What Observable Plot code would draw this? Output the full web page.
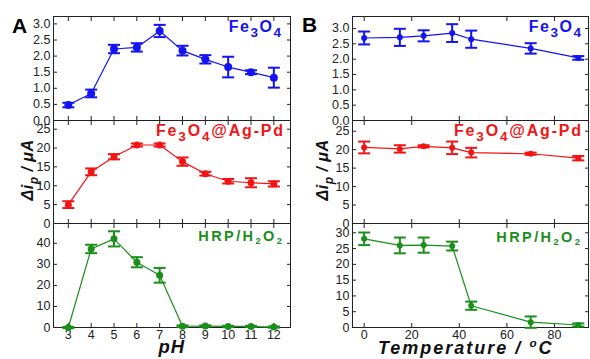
<!DOCTYPE html>
<html><head><meta charset="utf-8">
<script src="https://cdn.jsdelivr.net/npm/d3@7"></script>
<script src="https://cdn.jsdelivr.net/npm/@observablehq/plot@0.6"></script>
<style>
body{margin:0;background:#fff;}
#chart{position:relative;width:590px;height:359px;overflow:hidden;font-family:"Liberation Sans",Arial,sans-serif;background:#fff;}
.lbl{position:absolute;font-weight:bold;white-space:nowrap;line-height:1;}
.lbl sub{font-size:85%;vertical-align:baseline;position:relative;top:0.3em;}
.lbl sup{font-size:65%;vertical-align:baseline;position:relative;top:-0.55em;}
</style></head><body><div id="chart"></div><script>
// ---- data ----
const pH = [3, 4, 5, 6, 7, 8, 9, 10, 11, 12];
const pH_Fe3O4 = [0.48, 0.84, 2.22, 2.27, 2.78, 2.17, 1.90, 1.66, 1.50, 1.33];
const pH_Fe3O4_err = [0.07, 0.12, 0.13, 0.13, 0.19, 0.15, 0.13, 0.32, 0.06, 0.31];
const pH_AgPd = [5.0, 13.7, 17.7, 20.8, 20.8, 16.4, 13.2, 11.2, 10.8, 10.5];
const pH_AgPd_err = [0.9, 0.9, 0.7, 0.4, 0.4, 1.1, 0.5, 0.6, 1.2, 0.7];
const pH_HRP = [0.0, 37.3, 42.1, 31.0, 24.8, 0.6, 0.7, 0.5, 0.5, 0.2];
const pH_HRP_err = [0.3, 2.0, 3.6, 2.4, 3.5, 0.4, 0.3, 0.3, 0.3, 0.3];

const temp = [0, 15, 25, 37, 45, 70, 90];
const T_Fe3O4 = [2.69, 2.71, 2.76, 2.85, 2.65, 2.35, 2.04];
const T_Fe3O4_err = [0.21, 0.28, 0.18, 0.29, 0.28, 0.17, 0.06];
const T_AgPd = [20.6, 20.2, 20.9, 20.5, 19.2, 18.9, 17.7];
const T_AgPd_err = [1.6, 1.0, 0.3, 1.7, 1.3, 0.3, 0.6];
const T_HRP = [28.1, 26.0, 26.1, 25.8, 6.9, 1.7, 0.8];
const T_HRP_err = [2.0, 2.5, 2.4, 1.4, 1.3, 1.8, 0.5];

const pHTicks = [3, 4, 5, 6, 7, 8, 9, 10, 11, 12];
const tempTicks = [0, 20, 40, 60, 80];
const feTicks = [0, 0.5, 1, 1.5, 2, 2.5, 3];
const agTicks = [0, 5, 10, 15, 20, 25];
const hrpTicksA = [0, 10, 20, 30, 40];
const hrpTicksB = [0, 5, 10, 15, 20, 25, 30];

const BLUE = "#1414f2", RED = "#f21414", GREEN = "#1a8f1a";

const chart = document.getElementById("chart");
const cap = {draw(ctx, size) { const w = Math.sqrt(size / Math.PI); ctx.moveTo(-w, 0); ctx.lineTo(w, 0); }};

function panel({xs, ys, es, color, xDomain, xTicks, yDomain, yTicks, yFmt, x0, x1, y0, y1, showX, r}) {
  const mL = 45, mR = 3, mT = 3, mB = showX ? 22 : 3;
  const data = xs.map((x, i) => ({x, y: ys[i], e: es[i]}));
  const svg = Plot.plot({
    width: (x1 - x0) + mL + mR, height: (y1 - y0) + mT + mB,
    marginLeft: mL, marginRight: mR, marginTop: mT, marginBottom: mB,
    x: {domain: xDomain}, y: {domain: yDomain},
    style: {fontFamily: '"Liberation Sans", Arial, sans-serif', fontSize: "12.5px", color: "#222", background: "transparent", overflow: "visible"},
    marks: [
      Plot.frame({stroke: "#222"}),
      Plot.axisX({anchor: "bottom", ticks: xTicks, tickSize: -4, tickPadding: 7, tickFormat: showX ? (d => String(d)) : (() => ""), label: null, stroke: "#222"}),
      Plot.axisX({anchor: "top", ticks: xTicks, tickSize: -4, tickFormat: () => "", label: null, stroke: "#222"}),
      Plot.axisY({anchor: "left", ticks: yTicks, tickSize: -4, tickPadding: 7, tickFormat: yFmt, label: null, stroke: "#222"}),
      Plot.axisY({anchor: "right", ticks: yTicks, tickSize: -4, tickFormat: () => "", label: null, stroke: "#222"}),
      Plot.line(data, {x: "x", y: "y", stroke: color, strokeWidth: 1.2}),
      Plot.ruleX(data, {x: "x", y1: d => d.y - d.e, y2: d => d.y + d.e, stroke: color, strokeWidth: 2}),
      Plot.dot(data, {x: "x", y: d => d.y + d.e, symbol: cap, r: 6, stroke: color, fill: "none", strokeWidth: 2}),
      Plot.dot(data, {x: "x", y: d => d.y - d.e, symbol: cap, r: 6, stroke: color, fill: "none", strokeWidth: 2}),
      Plot.dot(data, {x: "x", y: "y", fill: color, r})
    ]
  });
  svg.style.position = "absolute";
  svg.style.left = (x0 - mL) + "px";
  svg.style.top = (y0 - mT) + "px";
  svg.style.maxWidth = "none";
  chart.appendChild(svg);
}

const rows = [[16, 120], [120, 223], [223, 327]];
const fmt1 = d3.format(".1f"), fmt0 = d => String(d);
const A = {xs: pH, xDomain: [2.35, 12.73], xTicks: pHTicks, x0: 53, x1: 290};
const B = {xs: temp, xDomain: [-4.9, 94.3], xTicks: tempTicks, x0: 352, x1: 588};

panel({...A, ys: pH_Fe3O4, es: pH_Fe3O4_err, color: BLUE, yDomain: [0, 3.23], yTicks: feTicks, yFmt: fmt1, y0: rows[0][0], y1: rows[0][1], showX: false, r: 4});
panel({...A, ys: pH_AgPd, es: pH_AgPd_err, color: RED, yDomain: [0, 27.3], yTicks: agTicks, yFmt: fmt0, y0: rows[1][0], y1: rows[1][1], showX: false, r: 3.5});
panel({...A, ys: pH_HRP, es: pH_HRP_err, color: GREEN, yDomain: [0, 49.4], yTicks: hrpTicksA, yFmt: fmt0, y0: rows[2][0], y1: rows[2][1], showX: true, r: 3.5});
panel({...B, ys: T_Fe3O4, es: T_Fe3O4_err, color: BLUE, yDomain: [0, 3.39], yTicks: feTicks, yFmt: fmt1, y0: rows[0][0], y1: rows[0][1], showX: false, r: 3});
panel({...B, ys: T_AgPd, es: T_AgPd_err, color: RED, yDomain: [0, 27.9], yTicks: agTicks, yFmt: fmt0, y0: rows[1][0], y1: rows[1][1], showX: false, r: 3});
panel({...B, ys: T_HRP, es: T_HRP_err, color: GREEN, yDomain: [0, 32.95], yTicks: hrpTicksB, yFmt: fmt0, y0: rows[2][0], y1: rows[2][1], showX: true, r: 3});

// ---- text labels ----
function label(html, {left, right, baseline, size, color = "#111", ls = 0, italic = false}) {
  const d = document.createElement("div");
  d.className = "lbl";
  d.innerHTML = html;
  d.style.fontSize = size + "px";
  d.style.color = color;
  d.style.letterSpacing = ls + "px";
  if (italic) d.style.fontStyle = "italic";
  d.style.top = (baseline - 0.8465 * size) + "px";
  if (right != null) d.style.right = (590 - right - ls) + "px";
  else d.style.left = left + "px";
  chart.appendChild(d);
  return d;
}
const fe = "Fe<sub>3</sub>O<sub>4</sub>";
const ag = "Fe<sub>3</sub>O<sub>4</sub>@Ag-Pd";
const hrp = 'HRP/H<sub style="font-size:65%">2</sub>O<sub style="font-size:65%">2</sub>';
label(fe, {right: 281, baseline: 33, size: 16, color: BLUE, ls: 1.5});
label(ag, {right: 283, baseline: 137, size: 16, color: RED, ls: 1.8});
label(hrp, {right: 282, baseline: 241, size: 14.5, color: GREEN, ls: 2.4});
label(fe, {right: 581, baseline: 33, size: 16, color: BLUE, ls: 1.5});
label(ag, {right: 581, baseline: 137, size: 16, color: RED, ls: 1.8});
label(hrp, {right: 580, baseline: 242, size: 14.5, color: GREEN, ls: 2.4});

label("A", {left: 12, baseline: 33, size: 21, color: "#000"});
label("B", {left: 302, baseline: 32, size: 21, color: "#000"});

// x-axis titles
const px = label("pH", {left: 0, baseline: 354, size: 18.5, color: "#111", ls: 1, italic: true});
px.style.left = (172 - px.offsetWidth / 2) + "px";
const tx = label("Temperature / <sup>o</sup>C", {left: 0, baseline: 354, size: 18, color: "#111", ls: 2, italic: true});
tx.style.left = (466 - tx.offsetWidth / 2) + "px";

// y-axis titles (rotated)
function ylabel(cx, cy) {
  const d = document.createElement("div");
  d.className = "lbl";
  d.style.fontSize = "16px";
  d.style.fontStyle = "italic";
  d.style.color = "#111";
  d.style.letterSpacing = "0.5px";
  d.innerHTML = '&Delta;i<sub style="font-size:75%;top:0.45em">p</sub> / &mu;A';
  chart.appendChild(d);
  const w = d.offsetWidth, h = d.offsetHeight;
  d.style.left = (cx - w / 2) + "px";
  d.style.top = (cy - h / 2) + "px";
  d.style.transform = "rotate(-90deg)";
  d.style.transformOrigin = "50% 50%";
}
ylabel(27, 170);
ylabel(322, 170);
</script></body></html>
